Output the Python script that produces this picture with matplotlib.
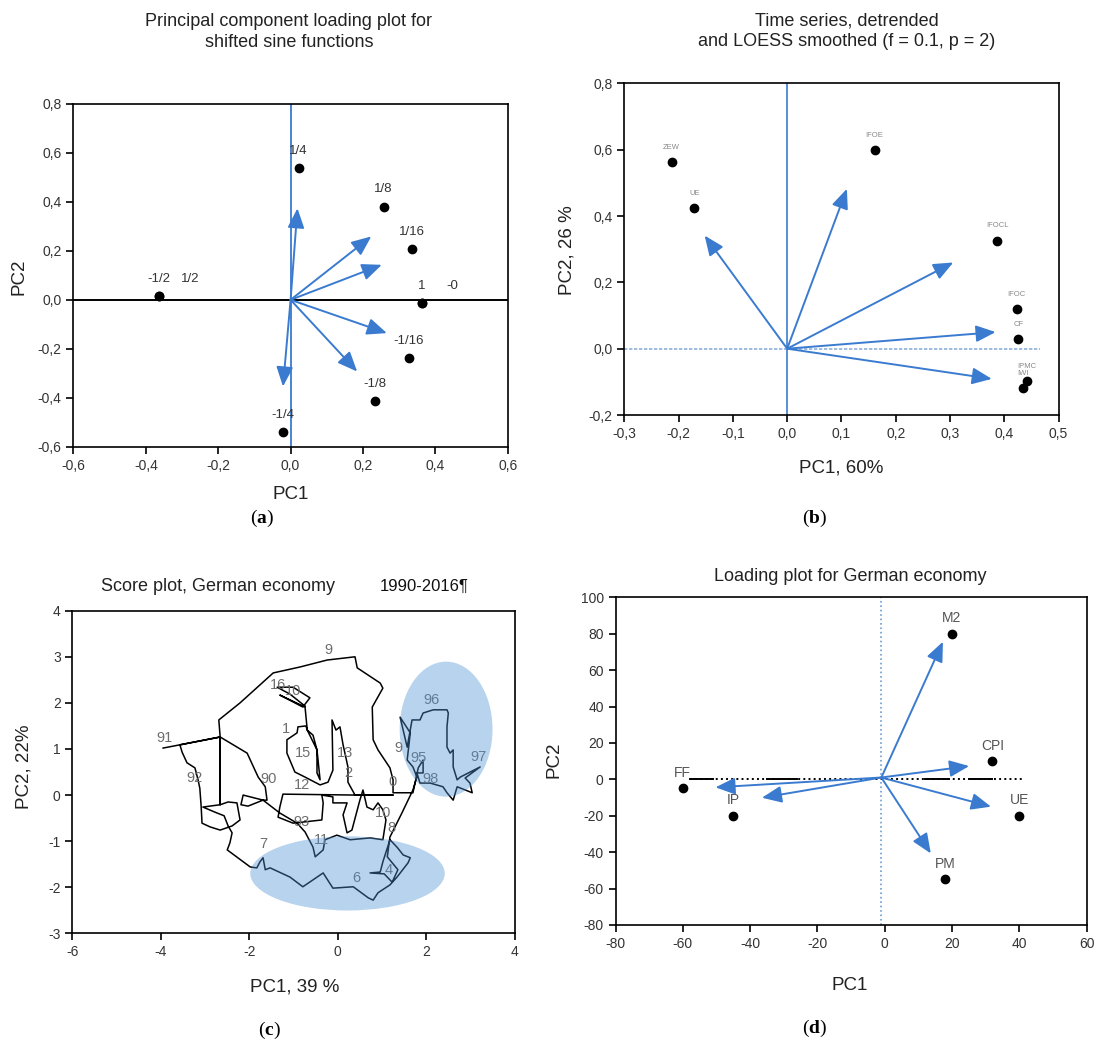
import matplotlib.pyplot as plt
import numpy as np
from matplotlib.patches import Ellipse
from matplotlib.ticker import FuncFormatter

plt.rcParams['font.family'] = ['Liberation Sans', 'DejaVu Sans']
plt.rcParams['mathtext.fontset'] = 'custom'
plt.rcParams['mathtext.bf'] = 'Liberation Serif:bold'
plt.rcParams['mathtext.rm'] = 'Liberation Serif'

BLUE = '#3a7bd0'

# (a) shifted sine functions: loadings and arrows
sine_names = ['1/4', '1/8', '1/16', '1', '-0', '-1/16', '-1/8', '-1/4', '-1/2', '1/2']
sine_pc1 = [0.022, 0.257, 0.336, 0.363, 0.363, 0.326, 0.232, -0.022, -0.363, -0.363]
sine_pc2 = [0.537, 0.381, 0.207, -0.014, -0.014, -0.238, -0.415, -0.541, 0.014, 0.014]
sine_arrow_pc1 = [0.019, 0.223, 0.252, 0.266, 0.184, -0.021]
sine_arrow_pc2 = [0.374, 0.259, 0.143, -0.136, -0.293, -0.354]

# (b) time series, detrended and LOESS smoothed
ts_names = ['ZEW', 'UE', 'IFOE', 'IFOCL', 'IFOC', 'CF', 'IPMC', 'IWI']
ts_pc1 = [-0.213, -0.171, 0.161, 0.387, 0.423, 0.426, 0.441, 0.434]
ts_pc2 = [0.564, 0.425, 0.598, 0.326, 0.119, 0.030, -0.097, -0.118]
ts_arrow_pc1 = [-0.152, 0.110, 0.306, 0.384, 0.377]
ts_arrow_pc2 = [0.341, 0.482, 0.260, 0.050, -0.091]

# (c) score trajectory, German economy 1990-2016
score_path = [
    (-3.95, 1.02), (-3.57, 1.09), (-3.52, 0.93), (-3.41, 0.70), (-3.23, 0.59), (-3.16, 0.33),
    (-3.12, 0.15), (-3.09, -0.24), (-3.07, -0.61), (-2.89, -0.69), (-2.66, -0.76), (-2.39, -0.67),
    (-2.21, -0.54), (-2.28, -0.17), (-2.48, -0.15), (-2.66, -0.21), (-2.66, 1.26), (-2.66, -0.21),
    (-3.05, -0.26), (-2.78, -0.37), (-2.57, -0.45), (-2.48, -0.67), (-2.39, -0.82), (-2.41, -0.91),
    (-2.44, -1.04), (-2.50, -1.19), (-1.98, -1.56), (-1.83, -1.58), (-1.76, -1.45), (-1.69, -1.36),
    (-1.64, -1.62), (-1.53, -1.58), (-1.08, -1.78), (-0.79, -1.99), (-0.56, -1.84), (-0.33, -1.69),
    (-0.11, -2.02), (0.35, -1.99), (0.69, -2.23), (0.80, -2.28), (0.91, -2.12), (1.18, -1.95),
    (1.34, -1.78), (1.59, -1.47), (1.64, -1.36), (1.48, -1.30), (1.34, -1.13), (1.18, -0.97),
    (1.02, -1.45), (0.96, -1.67), (0.73, -1.69), (1.05, -1.71), (1.23, -1.89), (1.36, -1.62),
    (1.12, -1.34), (1.18, -0.91), (1.45, -0.39), (1.70, 0.11), (1.79, 0.39),
    (1.70, 0.61), (1.57, 0.76), (1.64, 1.35), (1.41, 1.69), (1.57, 1.04), (1.68, 1.63), (1.86, 1.63),
    (1.93, 1.78), (2.16, 1.85), (2.47, 1.85), (2.50, 1.78), (2.47, 1.48), (2.47, 1.04), (2.54, 0.91),
    (2.61, 0.98), (2.61, 0.61), (2.70, 0.33), (2.77, 0.39), (3.22, 0.61), (2.88, 0.37), (2.99, 0.26),
    (3.04, 0.05), (2.70, 0.18), (2.61, -0.11), (2.47, 0.05), (2.38, 0.18), (2.09, 0.26), (1.86, 0.26),
    (1.79, 0.48), (1.93, 0.48), (1.93, 0.76), (1.82, 0.59), (1.70, 0.05),
    (1.25, 0.05), (1.25, 0.33), (1.18, 0.59), (0.91, 0.98), (0.80, 1.20), (0.78, 1.91), (1.02, 2.32),
    (0.96, 2.43), (0.44, 2.76), (0.39, 3.00), (-0.24, 2.93), (-0.85, 2.78), (-1.46, 2.65), (-2.21, 2.00),
    (-2.69, 1.63), (-2.66, 1.26), (-3.57, 1.09), (-2.66, 1.26),
    (-2.05, 0.91), (-1.80, 0.39), (-1.64, 0.18), (-1.60, -0.11), (-1.69, -0.11), (-2.14, 0.00),
    (-2.19, -0.21), (-2.03, -0.24), (-1.69, -0.11), (-1.31, -0.39), (-0.92, -0.61), (-0.74, -0.80),
    (-0.56, -1.13), (-0.51, -1.34), (-0.33, -1.19), (-0.29, -0.97), (-0.02, -0.87), (0.28, -0.97),
    (0.73, -0.93), (1.02, -0.97), (1.09, -0.54), (1.02, -0.32), (0.91, -0.17), (0.80, -0.32),
    (0.66, -0.26), (0.57, 0.11), (0.50, -0.11), (0.32, -0.76), (0.21, -0.82), (0.12, -0.43),
    (0.21, -0.17), (-0.11, -0.17), (-0.11, -0.04), (-0.36, 0.00), (-0.33, -0.17), (-0.36, -0.54),
    (-1.01, -0.61), (-1.35, -0.48), (-1.31, -0.26), (-1.24, 0.02), (0.39, 0.00), (1.25, 0.00), (0.39, 0.00),
    (0.23, 0.28), (0.23, 0.61), (0.12, 1.09), (0.05, 1.48), (-0.04, 1.41), (-0.13, 1.63), (-0.11, 0.54),
    (-0.22, 0.28), (-0.40, 0.22), (-0.74, 0.39), (-0.97, 0.50), (-1.15, 0.91), (-1.15, 1.20), (-0.92, 1.35),
    (-0.90, 1.48), (-0.72, 1.50), (-0.69, 1.41), (-0.56, 1.30), (-0.47, 0.98), (-0.47, 0.48), (-0.40, 0.33),
    (-0.47, 0.98), (-0.69, 1.41), (-0.74, 1.91), (-1.31, 2.17), (-0.79, 1.91), (-0.63, 2.11), (-1.01, 2.34),
    (-1.37, 2.34), (-1.08, 2.19), (-0.74, 1.93),
]
score_labels = [
    ('9', -0.21, 3.15), ('91', -3.91, 1.23), ('92', -3.23, 0.36), ('90', -1.57, 0.34),
    ('12', -0.81, 0.22), ('93', -0.81, -0.58), ('11', -0.36, -0.97), ('7', -1.68, -1.06),
    ('6', 0.43, -1.80), ('4', 1.15, -1.62), ('10', 1.03, -0.39), ('8', 1.22, -0.72),
    ('0', 1.24, 0.29), ('9', 1.37, 1.02), ('95', 1.82, 0.80), ('96', 2.13, 2.06),
    ('97', 3.18, 0.83), ('98', 2.09, 0.34), ('16', -1.36, 2.38), ('10', -1.02, 2.26),
    ('1', -1.17, 1.43), ('15', -0.78, 0.92), ('13', 0.17, 0.91), ('2', 0.24, 0.47),
]
# clusters: (centre x, centre y, width, height)
score_clusters = [(2.45, 1.43, 2.1, 2.93), (0.22, -1.70, 4.40, 1.61)]

# (d) loading plot, German economy
econ_names = ['M2', 'CPI', 'UE', 'PM', 'FF', 'IP']
econ_pc1 = [20, 32, 40, 18, -60, -45]
econ_pc2 = [80, 10, -20, -55, -5, -20]
econ_arrow_pc1 = [17.3, 25.1, 31.6, 13.7, -50.3, -36.5]
econ_arrow_pc2 = [75.6, 7.3, -15.0, -40.7, -4.4, -10.1]
econ_origin = (-1, 1)
# solid pieces over the dotted zero line
econ_zero_solid = [(-58, -51), (-35, -26), (12, 19), (25, 32)]

comma = FuncFormatter(lambda v, p: f'{v:.1f}'.replace('.', ','))
plain = FuncFormatter(lambda v, p: f'{v:.0f}')


def style_axes(ax):
    for s in ax.spines.values():
        s.set_linewidth(1.2)
    ax.tick_params(direction='out', length=5, width=1.2, labelsize=10,
                   labelcolor='#333333', top=False, right=False)


def arrows(ax, xs, ys, origin=(0, 0)):
    for x, y in zip(xs, ys):
        ax.annotate('', xy=(x, y), xytext=origin,
                    arrowprops=dict(arrowstyle='-|>,head_length=0.8,head_width=0.34',
                                    color=BLUE, lw=1.4, shrinkA=0, shrinkB=0,
                                    mutation_scale=15))


fig = plt.figure(figsize=(10.98, 10.42), dpi=100)

# ---------- (a)
ax = fig.add_axes([0.0669, 0.5713, 0.3955, 0.3289])
ax.set_xlim(-0.6, 0.6)
ax.set_ylim(-0.6, 0.8)
ax.set_xticks(np.arange(-0.6, 0.61, 0.2))
ax.set_yticks(np.arange(-0.6, 0.81, 0.2))
ax.xaxis.set_major_formatter(comma)
ax.yaxis.set_major_formatter(comma)
style_axes(ax)
ax.axhline(0, color='black', lw=1.4)
ax.axvline(0, color=BLUE, lw=1.3)
arrows(ax, sine_arrow_pc1, sine_arrow_pc2)
ax.plot(sine_pc1, sine_pc2, 'o', color='black', ms=6, zorder=4)
seen = set()
for n, x, y in zip(sine_names, sine_pc1, sine_pc2):
    dx = 22 if (x, y) in seen else 0
    seen.add((x, y))
    ax.annotate(n, (x, y), xytext=(dx, 8), textcoords='offset points',
                ha='center', va='bottom', fontsize=9.5, color='#333333')
fig.text(0.263, 0.969, 'Principal component loading plot for\nshifted sine functions',
         ha='center', va='center', fontsize=13, linespacing=1.3, color='#222222')
fig.text(0.0173, 0.734, 'PC2', rotation=90, ha='center', va='center', fontsize=13.5, color='#222222')
fig.text(0.265, 0.525, 'PC1', ha='center', va='center', fontsize=13.5, color='#222222')

# ---------- (b)
ax = fig.add_axes([0.5686, 0.6017, 0.3955, 0.3183])
ax.set_xlim(-0.3, 0.5)
ax.set_ylim(-0.2, 0.8)
ax.set_xticks(np.arange(-0.3, 0.51, 0.1))
ax.set_yticks(np.arange(-0.2, 0.81, 0.2))
ax.xaxis.set_major_formatter(comma)
ax.yaxis.set_major_formatter(comma)
style_axes(ax)
ax.axvline(0, color=BLUE, lw=1.2)
ax.plot([-0.3, 0.465], [0, 0], color='#8fb0dd', lw=1.2, ls=(0, (2, 1)))
arrows(ax, ts_arrow_pc1, ts_arrow_pc2)
ax.plot(ts_pc1, ts_pc2, 'o', color='black', ms=6, zorder=4)
for n, x, y in zip(ts_names, ts_pc1, ts_pc2):
    ax.annotate(n, (x, y), xytext=(0, 8), textcoords='offset points',
                ha='center', va='bottom', fontsize=5.5, color='#888888')
fig.text(0.771, 0.970, 'Time series, detrended\nand LOESS smoothed (f = 0.1, p = 2)',
         ha='center', va='center', fontsize=13, linespacing=1.3, color='#222222')
fig.text(0.516, 0.760, 'PC2, 26 %', rotation=90, ha='center', va='center', fontsize=13.5, color='#222222')
fig.text(0.766, 0.551, 'PC1, 60%', ha='center', va='center', fontsize=13.5, color='#222222')

# ---------- (c)
ax = fig.add_axes([0.0660, 0.1043, 0.4027, 0.3096])
ax.set_xlim(-6, 4)
ax.set_ylim(-3, 4)
ax.set_xticks(np.arange(-6, 4.1, 2))
ax.set_yticks(np.arange(-3, 4.1, 1))
ax.xaxis.set_major_formatter(plain)
ax.yaxis.set_major_formatter(plain)
style_axes(ax)
path = np.array(score_path)
ax.plot(path[:, 0], path[:, 1], color='black', lw=1.1, zorder=2)
for t, x, y in score_labels:
    ax.text(x, y, t, ha='center', va='center', fontsize=10.5, color='#6e6e6e', zorder=2.5)
for cx, cy, w, h in score_clusters:
    ax.add_patch(Ellipse((cx, cy), w, h, facecolor='#4e91d4', edgecolor='none',
                         alpha=0.4, zorder=3))
fig.text(0.0924, 0.437, 'Score plot, German economy', ha='left', va='center',
         fontsize=13, color='#222222')
fig.text(0.346, 0.437, '1990-2016\u00b6', ha='left', va='center', fontsize=12, color='#111111')
fig.text(0.0223, 0.264, 'PC2, 22%', rotation=90, ha='center', va='center', fontsize=13.5, color='#222222')
fig.text(0.268, 0.053, 'PC1, 39 %', ha='center', va='center', fontsize=13.5, color='#222222')

# ---------- (d)
ax = fig.add_axes([0.5606, 0.1123, 0.4290, 0.3145])
ax.set_xlim(-80, 60)
ax.set_ylim(-80, 100)
ax.set_xticks(np.arange(-80, 61, 20))
ax.set_yticks(np.arange(-80, 101, 20))
ax.xaxis.set_major_formatter(plain)
ax.yaxis.set_major_formatter(plain)
style_axes(ax)
ax.axvline(econ_origin[0], color='#6b9bd6', lw=1.2, ls=':')
ax.plot([-58, 41], [0, 0], color='black', lw=1.4, ls=':')
for x0, x1 in econ_zero_solid:
    ax.plot([x0, x1], [0, 0], color='black', lw=1.4)
arrows(ax, econ_arrow_pc1, econ_arrow_pc2, origin=econ_origin)
ax.plot(econ_pc1, econ_pc2, 'o', color='black', ms=6, zorder=4)
for n, x, y in zip(econ_names, econ_pc1, econ_pc2):
    ax.annotate(n, (x, y), xytext=(0, 6), textcoords='offset points',
                ha='center', va='bottom', fontsize=10, color='#555555')
fig.text(0.774, 0.4466, 'Loading plot for German economy', ha='center', va='center',
         fontsize=13, color='#222222')
fig.text(0.5046, 0.2706, 'PC2', rotation=90, ha='center', va='center', fontsize=13.5, color='#222222')
fig.text(0.774, 0.0547, 'PC1', ha='center', va='center', fontsize=13.5, color='#222222')

# panel letters
for lab, x, y in [('a', 0.2386, 0.502), ('b', 0.742, 0.502),
                  ('c', 0.2455, 0.0115), ('d', 0.742, 0.0134)]:
    fig.text(x, y, rf'($\mathbf{{{lab}}}$)', ha='center', va='center', fontsize=14,
             family='Liberation Serif')

fig.savefig('out.png', dpi=100)
